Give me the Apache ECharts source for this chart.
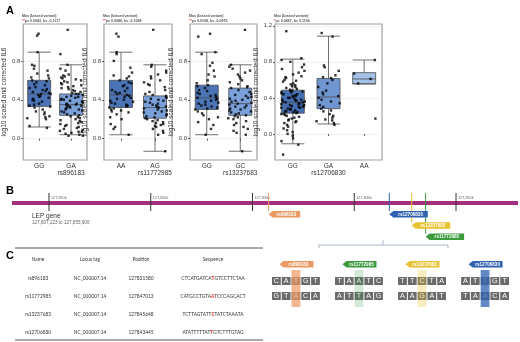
<!DOCTYPE html>
<html>
<head>
<meta charset="utf-8">
<script src="https://cdn.jsdelivr.net/npm/echarts@6/dist/echarts.min.js"></script>
<style>
html, body { margin: 0; padding: 0; background: #fff; }
#main { width: 520px; height: 342px; }
</style>
</head>
<body>
<div id="main"></div>
<script>
// ---- data ----
var snpNames = ['rs896183', 'rs11772985', 'rs13237683', 'rs12706830'];
var genotypes = [['GG', 'GA'], ['AA', 'AG'], ['GG', 'GC'], ['GG', 'GA', 'AA']];
var pStars = ['**', '**', '**', '*'];
var pTexts = ['p= 0.0043, b= -0.1117', 'p= 0.0086, b= -0.1068', 'p= 0.0108, b= -0.0976', 'p= 0.0457, b= 0.1106'];

// boxplot stats [low, Q1, median, Q3, high]
var box_rs896183 = [[0.12, 0.33, 0.46, 0.60, 0.89], [0.04, 0.24, 0.35, 0.46, 0.76]];
var box_rs11772985 = [[0.04, 0.32, 0.45, 0.60, 0.89], [-0.13, 0.21, 0.32, 0.44, 0.76]];
var box_rs13237683 = [[0.04, 0.30, 0.42, 0.55, 0.89], [-0.13, 0.24, 0.36, 0.52, 0.76]];
var box_rs12706830 = [[-0.11, 0.23, 0.35, 0.485, 0.83], [0.11, 0.28, 0.41, 0.615, 1.085], [0.555, 0.555, 0.61, 0.68, 0.82]];

// individual samples (jittered points)
var pts_rs896183_GG = [1.08, 1.06, 0.89, 0.76, 0.75, 0.72, 0.70, 0.67, 0.65, 0.63, 0.62, 0.60, 0.59, 0.58, 0.56, 0.55, 0.53, 0.52, 0.51, 0.50, 0.49, 0.48, 0.47, 0.46, 0.46, 0.45, 0.44, 0.43, 0.42, 0.41, 0.40, 0.39, 0.38, 0.36, 0.35, 0.34, 0.33, 0.32, 0.30, 0.28, 0.27, 0.25, 0.23, 0.22, 0.21, 0.20, 0.13, 0.11];
var pts_rs896183_GA = [1.12, 0.87, 0.76, 0.72, 0.70, 0.66, 0.65, 0.64, 0.63, 0.62, 0.61, 0.60, 0.59, 0.58, 0.57, 0.56, 0.55, 0.54, 0.53, 0.52, 0.51, 0.50, 0.49, 0.48, 0.47, 0.46, 0.46, 0.45, 0.44, 0.43, 0.43, 0.42, 0.41, 0.40, 0.40, 0.39, 0.38, 0.38, 0.37, 0.36, 0.36, 0.35, 0.35, 0.34, 0.34, 0.33, 0.32, 0.32, 0.31, 0.30, 0.30, 0.29, 0.28, 0.27, 0.26, 0.25, 0.24, 0.23, 0.22, 0.21, 0.20, 0.19, 0.18, 0.17, 0.16, 0.15, 0.14, 0.13, 0.12, 0.11, 0.10, 0.09, 0.08, 0.07, 0.07, 0.06, 0.05, 0.04, 0.03, 0.03];
var pts_rs11772985_AA = [1.08, 1.05, 0.89, 0.87, 0.80, 0.73, 0.68, 0.65, 0.64, 0.62, 0.60, 0.58, 0.57, 0.55, 0.54, 0.52, 0.50, 0.49, 0.48, 0.47, 0.46, 0.45, 0.44, 0.43, 0.42, 0.41, 0.40, 0.39, 0.38, 0.37, 0.36, 0.35, 0.34, 0.33, 0.32, 0.31, 0.30, 0.29, 0.28, 0.27, 0.25, 0.22, 0.20, 0.15, 0.12, 0.10, 0.04];
var pts_rs11772985_AG = [1.12, 0.76, 0.74, 0.70, 0.68, 0.66, 0.64, 0.62, 0.60, 0.58, 0.56, 0.55, 0.53, 0.50, 0.48, 0.46, 0.45, 0.44, 0.43, 0.42, 0.41, 0.40, 0.39, 0.38, 0.37, 0.36, 0.35, 0.34, 0.33, 0.33, 0.32, 0.31, 0.30, 0.29, 0.28, 0.27, 0.26, 0.25, 0.24, 0.23, 0.22, 0.21, 0.20, 0.19, 0.18, 0.17, 0.16, 0.15, 0.14, 0.13, 0.12, 0.10, 0.08, 0.06, 0.04, -0.13];
var pts_rs13237683_GG = [1.08, 1.05, 0.89, 0.87, 0.78, 0.75, 0.70, 0.66, 0.64, 0.60, 0.57, 0.55, 0.54, 0.52, 0.50, 0.49, 0.47, 0.46, 0.45, 0.44, 0.43, 0.42, 0.41, 0.40, 0.39, 0.38, 0.37, 0.36, 0.35, 0.34, 0.33, 0.32, 0.31, 0.30, 0.28, 0.26, 0.24, 0.22, 0.20, 0.17, 0.14, 0.10, 0.04];
var pts_rs13237683_GC = [1.12, 0.76, 0.74, 0.72, 0.70, 0.68, 0.66, 0.64, 0.62, 0.60, 0.58, 0.56, 0.54, 0.53, 0.52, 0.50, 0.48, 0.46, 0.45, 0.44, 0.43, 0.42, 0.41, 0.40, 0.39, 0.38, 0.37, 0.36, 0.35, 0.34, 0.33, 0.32, 0.31, 0.30, 0.29, 0.28, 0.27, 0.26, 0.25, 0.24, 0.23, 0.22, 0.21, 0.20, 0.18, 0.16, 0.14, 0.12, 0.10, 0.08, 0.06, 0.04, -0.13];
var pts_rs12706830_GG = [1.14, 0.84, 0.82, 0.80, 0.77, 0.74, 0.72, 0.70, 0.68, 0.66, 0.64, 0.63, 0.62, 0.60, 0.59, 0.58, 0.56, 0.55, 0.54, 0.53, 0.52, 0.51, 0.50, 0.49, 0.48, 0.48, 0.47, 0.46, 0.46, 0.45, 0.44, 0.44, 0.43, 0.42, 0.42, 0.41, 0.40, 0.40, 0.39, 0.38, 0.38, 0.37, 0.37, 0.36, 0.36, 0.35, 0.35, 0.34, 0.34, 0.33, 0.33, 0.32, 0.32, 0.31, 0.31, 0.30, 0.30, 0.29, 0.29, 0.28, 0.28, 0.27, 0.27, 0.26, 0.25, 0.25, 0.24, 0.24, 0.23, 0.22, 0.22, 0.21, 0.20, 0.19, 0.18, 0.17, 0.16, 0.15, 0.14, 0.13, 0.12, 0.10, 0.08, 0.06, 0.04, 0.02, 0.00, -0.02, -0.05, -0.08, -0.12, -0.23];
var pts_rs12706830_GA = [1.12, 1.08, 0.76, 0.74, 0.70, 0.65, 0.63, 0.62, 0.60, 0.56, 0.52, 0.48, 0.46, 0.44, 0.42, 0.40, 0.38, 0.36, 0.34, 0.32, 0.30, 0.28, 0.26, 0.25, 0.22, 0.20, 0.18, 0.16, 0.15, 0.14, 0.12, 0.10];
var pts_rs12706830_AA = [0.82, 0.67, 0.61, 0.56, 0.17];

var yRange = [[-0.22, 1.18], [-0.22, 1.18], [-0.22, 1.18], [-0.29, 1.22]];
var yTicks = [[0, 0.4, 0.8], [0, 0.4, 0.8], [0, 0.4, 0.8], [0, 0.4, 0.8, 1.2]];

// gene / SNP annotation
var geneName = 'LEP gene';
var geneRange = [127807223, 127855906];
var genomeTicks = [127810000, 127820000, 127830000, 127840000, 127850000];
var locusTags = ['NC_000007.14', 'NC_000007.14', 'NC_000007.14', 'NC_000007.14'];
var snpPositions = [127831580, 127847013, 127845648, 127843445];
var seqLeft = ['CTCATGATCA', 'CATGCCTGTA', 'TCTTAGTATT', 'ATATTTTTAT'];
var seqAllele = ['T', 'A', 'C', 'T'];
var seqRight = ['GTCCTTCTAA', 'TCCCAGCACT', 'TATCTAAATA', 'GTCTTTGTAG'];
var strandTop = ['CATGT', 'TAATC', 'TTCTA', 'ATTGT'];
var strandBottom = ['GTACA', 'ATTAG', 'AAGAT', 'TAACA'];
var snpCol = 2;

// ---- styles ----
var snpColors = ['#ec9a64', '#3d9b3e', '#e8c232', '#2f62b0'];
var overlayOpacity = [0.7, 0.22, 0.3, 0.75];
var boxColors = [['#4a74b6', '#7aa0da'], ['#4a74b6', '#7aa0da'], ['#4a74b6', '#7aa0da'], ['#4470b2', '#7096d2', '#a4c1e8']];
var FONT = 'Liberation Sans';
var TFONT = 'Lato';

var boxStats = [box_rs896183, box_rs11772985, box_rs13237683, box_rs12706830];
var pointSets = [
  [pts_rs896183_GG, pts_rs896183_GA],
  [pts_rs11772985_AA, pts_rs11772985_AG],
  [pts_rs13237683_GG, pts_rs13237683_GC],
  [pts_rs12706830_GG, pts_rs12706830_GA, pts_rs12706830_AA]
];
var panelBox = [[23, 64], [104, 68], [190, 67], [275, 107]];
var titleIdx = [1, 1, 1, 1];

var chart = echarts.init(document.getElementById('main'));

var grids = [], xAxes = [], yAxes = [], series = [], titles = [], graphics = [];

panelBox.forEach(function (b, p) {
  grids.push({ left: b[0], width: b[1], top: 24, height: 136, show: true, borderColor: '#a0a0a0', borderWidth: 1.2, backgroundColor: '#fff' });
  xAxes.push({
    type: 'category', gridIndex: p, data: genotypes[p],
    jitter: 24, jitterOverlap: true,
    axisLine: { show: false },
    axisTick: { show: true, alignWithLabel: true, length: 2, lineStyle: { color: '#555' } },
    axisLabel: {
      interval: 0, fontSize: 6.5, color: '#333', fontFamily: FONT, margin: 3, lineHeight: 7,
      formatter: function (v, i) { return i === titleIdx[p] ? v + '\n' + snpNames[p] : v; }
    },
    splitLine: { show: false }
  });
  yAxes.push({
    type: 'value', gridIndex: p, min: yRange[p][0], max: yRange[p][1],
    axisLine: { show: false },
    axisTick: { show: true, length: 2, customValues: yTicks[p], lineStyle: { color: '#555' } },
    axisLabel: { customValues: yTicks[p], fontSize: 6, color: '#444', fontFamily: FONT, margin: 3,
      formatter: function (v) { return v.toFixed(1); } },
    splitLine: { show: true, lineStyle: { color: '#e8e8e8', width: 0.7 } },
    name: 'log10 scaled and corrected IL6', nameLocation: 'middle', nameGap: 12,
    nameTextStyle: { fontSize: 6.5, color: '#333', fontFamily: FONT }
  });
  series.push({
    type: 'boxplot', xAxisIndex: p, yAxisIndex: p, boxWidth: [23, 23], z: 2,
    itemStyle: { borderColor: '#4a4a4a', borderWidth: 0.8 },
    data: boxStats[p].map(function (s, i) { return { value: s, itemStyle: { color: boxColors[p][i] } }; })
  });
  var pts = [];
  pointSets[p].forEach(function (arr, g) {
    arr.forEach(function (v) { pts.push([genotypes[p][g], v]); });
  });
  series.push({
    type: 'scatter', xAxisIndex: p, yAxisIndex: p, z: 3, symbol: 'rect', symbolSize: 2.4,
    itemStyle: { color: '#000' }, data: pts
  });
  titles.push({
    left: b[0] - 6, top: 9,
    text: '{h|Max (biased variant)}\n{r|' + pStars[p] + '}{g|' + pTexts[p] + '}',
    textStyle: { rich: {
      h: { fontSize: 3.6, color: '#555', fontFamily: FONT, lineHeight: 4.5 },
      r: { fontSize: 3.6, color: '#e03030', fontFamily: FONT, lineHeight: 4.5 },
      g: { fontSize: 3.6, color: '#555', fontFamily: FONT, lineHeight: 4.5 }
    } }
  });
});

// panel letters
['A', 'B', 'C'].forEach(function (l, i) {
  titles.push({ text: l, left: 1, top: [0, 180, 245][i], textStyle: { fontSize: 11, fontWeight: 'bold', color: '#000', fontFamily: FONT } });
});

// ---- panel B: genome track ----
var G = 4;
grids.push({ left: 12, width: 506, top: 193, height: 50 });
xAxes.push({ type: 'value', gridIndex: G, min: 127806364, max: 127856093, show: false });
yAxes.push({ type: 'value', gridIndex: G, min: 0, max: 50, inverse: true, show: false });

series.push({
  type: 'custom', xAxisIndex: G, yAxisIndex: G, silent: true,
  data: [[geneRange[0], geneRange[1]]],
  renderItem: function (params, api) {
    var a = api.coord([127806364, 8]);
    var b = api.coord([127856093, 12]);
    return { type: 'rect', shape: { x: a[0], y: a[1], width: b[0] - a[0], height: b[1] - a[1] },
      style: { fill: '#a3307c' } };
  }
});
series.push({
  type: 'custom', xAxisIndex: G, yAxisIndex: G, silent: true, z: 5,
  data: genomeTicks.map(function (v) { return [v]; }),
  renderItem: function (params, api) {
    var v = api.value(0);
    var t = api.coord([v, 0]), bt = api.coord([v, 18]);
    return { type: 'group', children: [
      { type: 'line', shape: { x1: t[0], y1: t[1], x2: bt[0], y2: bt[1] }, style: { stroke: '#333', lineWidth: 1 } },
      { type: 'text', x: t[0] + 2, y: t[1] + 3, style: { text: (v / 1000).toLocaleString('en-US') + 'k', fontSize: 3.8, fill: '#666', fontFamily: FONT, textBaseline: 'middle' } }
    ] };
  }
});

// flag rows: stack overlapping labels
var flagSpan = 3800;
var rowEnd = [];
var flagRow = [];
snpPositions.map(function (p, i) { return i; })
  .sort(function (a, b) { return snpPositions[a] - snpPositions[b]; })
  .forEach(function (i) {
    var r = 0;
    while (rowEnd[r] !== undefined && snpPositions[i] < rowEnd[r]) r++;
    rowEnd[r] = snpPositions[i] + flagSpan;
    flagRow[i] = r;
  });

function flagShape(x, y, w, h, color, label) {
  return [
    { type: 'polygon', shape: { points: [[x, y + h / 2], [x + 4, y], [x + w, y], [x + w, y + h], [x + 4, y + h]] }, style: { fill: color } },
    { type: 'text', x: x + 2 + w / 2, y: y + h / 2 + 0.3, style: { text: label, fontSize: 4.6, fontWeight: 'bold', fill: '#fff', fontFamily: FONT, align: 'center', verticalAlign: 'middle' } }
  ];
}

series.push({
  type: 'custom', xAxisIndex: G, yAxisIndex: G, silent: true, z: 6,
  data: snpPositions.map(function (p, i) { return [p, flagRow[i], i]; }),
  renderItem: function (params, api) {
    var i = api.value(2);
    var row = api.value(1);
    var top = api.coord([api.value(0), 0]);
    var fy = api.coord([api.value(0), 18 + row * 11.3])[1];
    var w = 4 + snpNames[i].length * 3.45;
    var children = [{ type: 'line', shape: { x1: top[0], y1: top[1], x2: top[0], y2: fy }, style: { stroke: snpColors[i], lineWidth: 1 } }];
    return { type: 'group', children: children.concat(flagShape(top[0], fy, w, 6.5, snpColors[i], snpNames[i])) };
  }
});

// ---- panel C right: base pairs ----
var S = 5, GROUP_STEP = 6.45;
grids.push({ left: 272, width: 238, top: 281, height: 15 });
xAxes.push({ type: 'value', gridIndex: S, min: 0, max: 24.35, show: false });
yAxes.push({ type: 'category', gridIndex: S, data: ['top', 'bottom'], inverse: true, boundaryGap: false, show: false });

var cells = [];
strandTop.forEach(function (s, g) {
  [s, strandBottom[g]].forEach(function (str, r) {
    str.split('').forEach(function (ch, c) { cells.push([g * GROUP_STEP + c, r, ch]); });
  });
});
series.push({
  type: 'custom', xAxisIndex: S, yAxisIndex: S, silent: true, z: 4,
  data: cells,
  renderItem: function (params, api) {
    var p = api.coord([api.value(0), api.value(1)]);
    var w = api.size([1, 0])[0];
    return { type: 'group', children: [
      { type: 'rect', shape: { x: p[0], y: p[1] - 4, width: w - 1, height: 8 }, style: { fill: '#6a6a6a' } },
      { type: 'text', x: p[0] + (w - 1) / 2, y: p[1] + 0.4, style: { text: cells[params.dataIndex][2], fontSize: 7.2, fill: '#fff', fontFamily: FONT, align: 'center', verticalAlign: 'middle' } }
    ] };
  }
});
series.push({
  type: 'custom', xAxisIndex: S, yAxisIndex: S, silent: true, z: 5,
  data: strandTop.map(function (s, g) { return [g * GROUP_STEP + snpCol, g]; }),
  renderItem: function (params, api) {
    var g = api.value(1);
    var a = api.coord([api.value(0), 0]);
    var b = api.coord([api.value(0), 1]);
    var w = api.size([1, 0])[0];
    return { type: 'rect', shape: { x: a[0], y: a[1] - 11, width: w - 1, height: b[1] - a[1] + 22 },
      style: { fill: snpColors[g], opacity: overlayOpacity[g] } };
  }
});
series.push({
  type: 'custom', xAxisIndex: S, yAxisIndex: S, silent: true, z: 6,
  data: strandTop.map(function (s, g) { return [g * GROUP_STEP + 2.5, g]; }),
  renderItem: function (params, api) {
    var g = api.value(1);
    var c = api.coord([api.value(0), 0]);
    var w = 34;
    return { type: 'group', children: flagShape(c[0] - w / 2, c[1] - 20, w, 6.5, snpColors[g], snpNames[g]) };
  }
});

// bracket linking track to zoomed bases
graphics.push({ type: 'polyline', shape: { points: [[319, 248], [319, 245], [448, 245], [448, 248]] }, style: { stroke: '#a9b7cc', lineWidth: 1, fill: null } });
graphics.push({ type: 'line', shape: { x1: 383, y1: 245, x2: 383, y2: 240 }, style: { stroke: '#a9b7cc', lineWidth: 1 } });

// gene caption
graphics.push({ type: 'text', left: 32, top: 213, style: { text: geneName, fontSize: 6.5, fill: '#333', fontFamily: FONT } });
graphics.push({ type: 'text', left: 32, top: 220, style: { text: geneRange[0].toLocaleString('en-US') + ' to ' + geneRange[1].toLocaleString('en-US'), fontSize: 4.6, fill: '#666', fontFamily: FONT } });

// ---- panel C left: table ----
var colX = [38, 90, 141, 213];
var rowY = [278, 296, 314, 332];
graphics.push({ type: 'line', shape: { x1: 15, y1: 248, x2: 263, y2: 248 }, style: { stroke: '#555', lineWidth: 1 } });
graphics.push({ type: 'line', shape: { x1: 15, y1: 340, x2: 263, y2: 340 }, style: { stroke: '#555', lineWidth: 1 } });
['Name', 'Locus tag', 'Position', 'Sequence'].forEach(function (h, i) {
  graphics.push({ type: 'text', x: colX[i], y: 259, style: { text: h, fontSize: 4.8, fill: '#333', fontFamily: TFONT, align: 'center', verticalAlign: 'middle' } });
});
snpNames.forEach(function (n, r) {
  var cols = [n, locusTags[r], String(snpPositions[r])];
  cols.forEach(function (t, i) {
    graphics.push({ type: 'text', x: colX[i], y: rowY[r], style: { text: t, fontSize: 4.8, fill: '#333', fontFamily: TFONT, align: 'center', verticalAlign: 'middle' } });
  });
  graphics.push({ type: 'text', x: colX[3], y: rowY[r], style: {
    text: '{n|' + seqLeft[r] + '}{r|' + seqAllele[r] + '}{n|' + seqRight[r] + '}',
    align: 'center', verticalAlign: 'middle',
    rich: { n: { fontSize: 4.8, fill: '#333', fontFamily: TFONT }, r: { fontSize: 4.8, fill: '#e02020', fontWeight: 'bold', fontFamily: TFONT } }
  } });
});

chart.setOption({
  animation: false,
  backgroundColor: '#fff',
  title: titles,
  grid: grids,
  xAxis: xAxes,
  yAxis: yAxes,
  series: series,
  graphic: graphics
});
</script>
</body>
</html>
